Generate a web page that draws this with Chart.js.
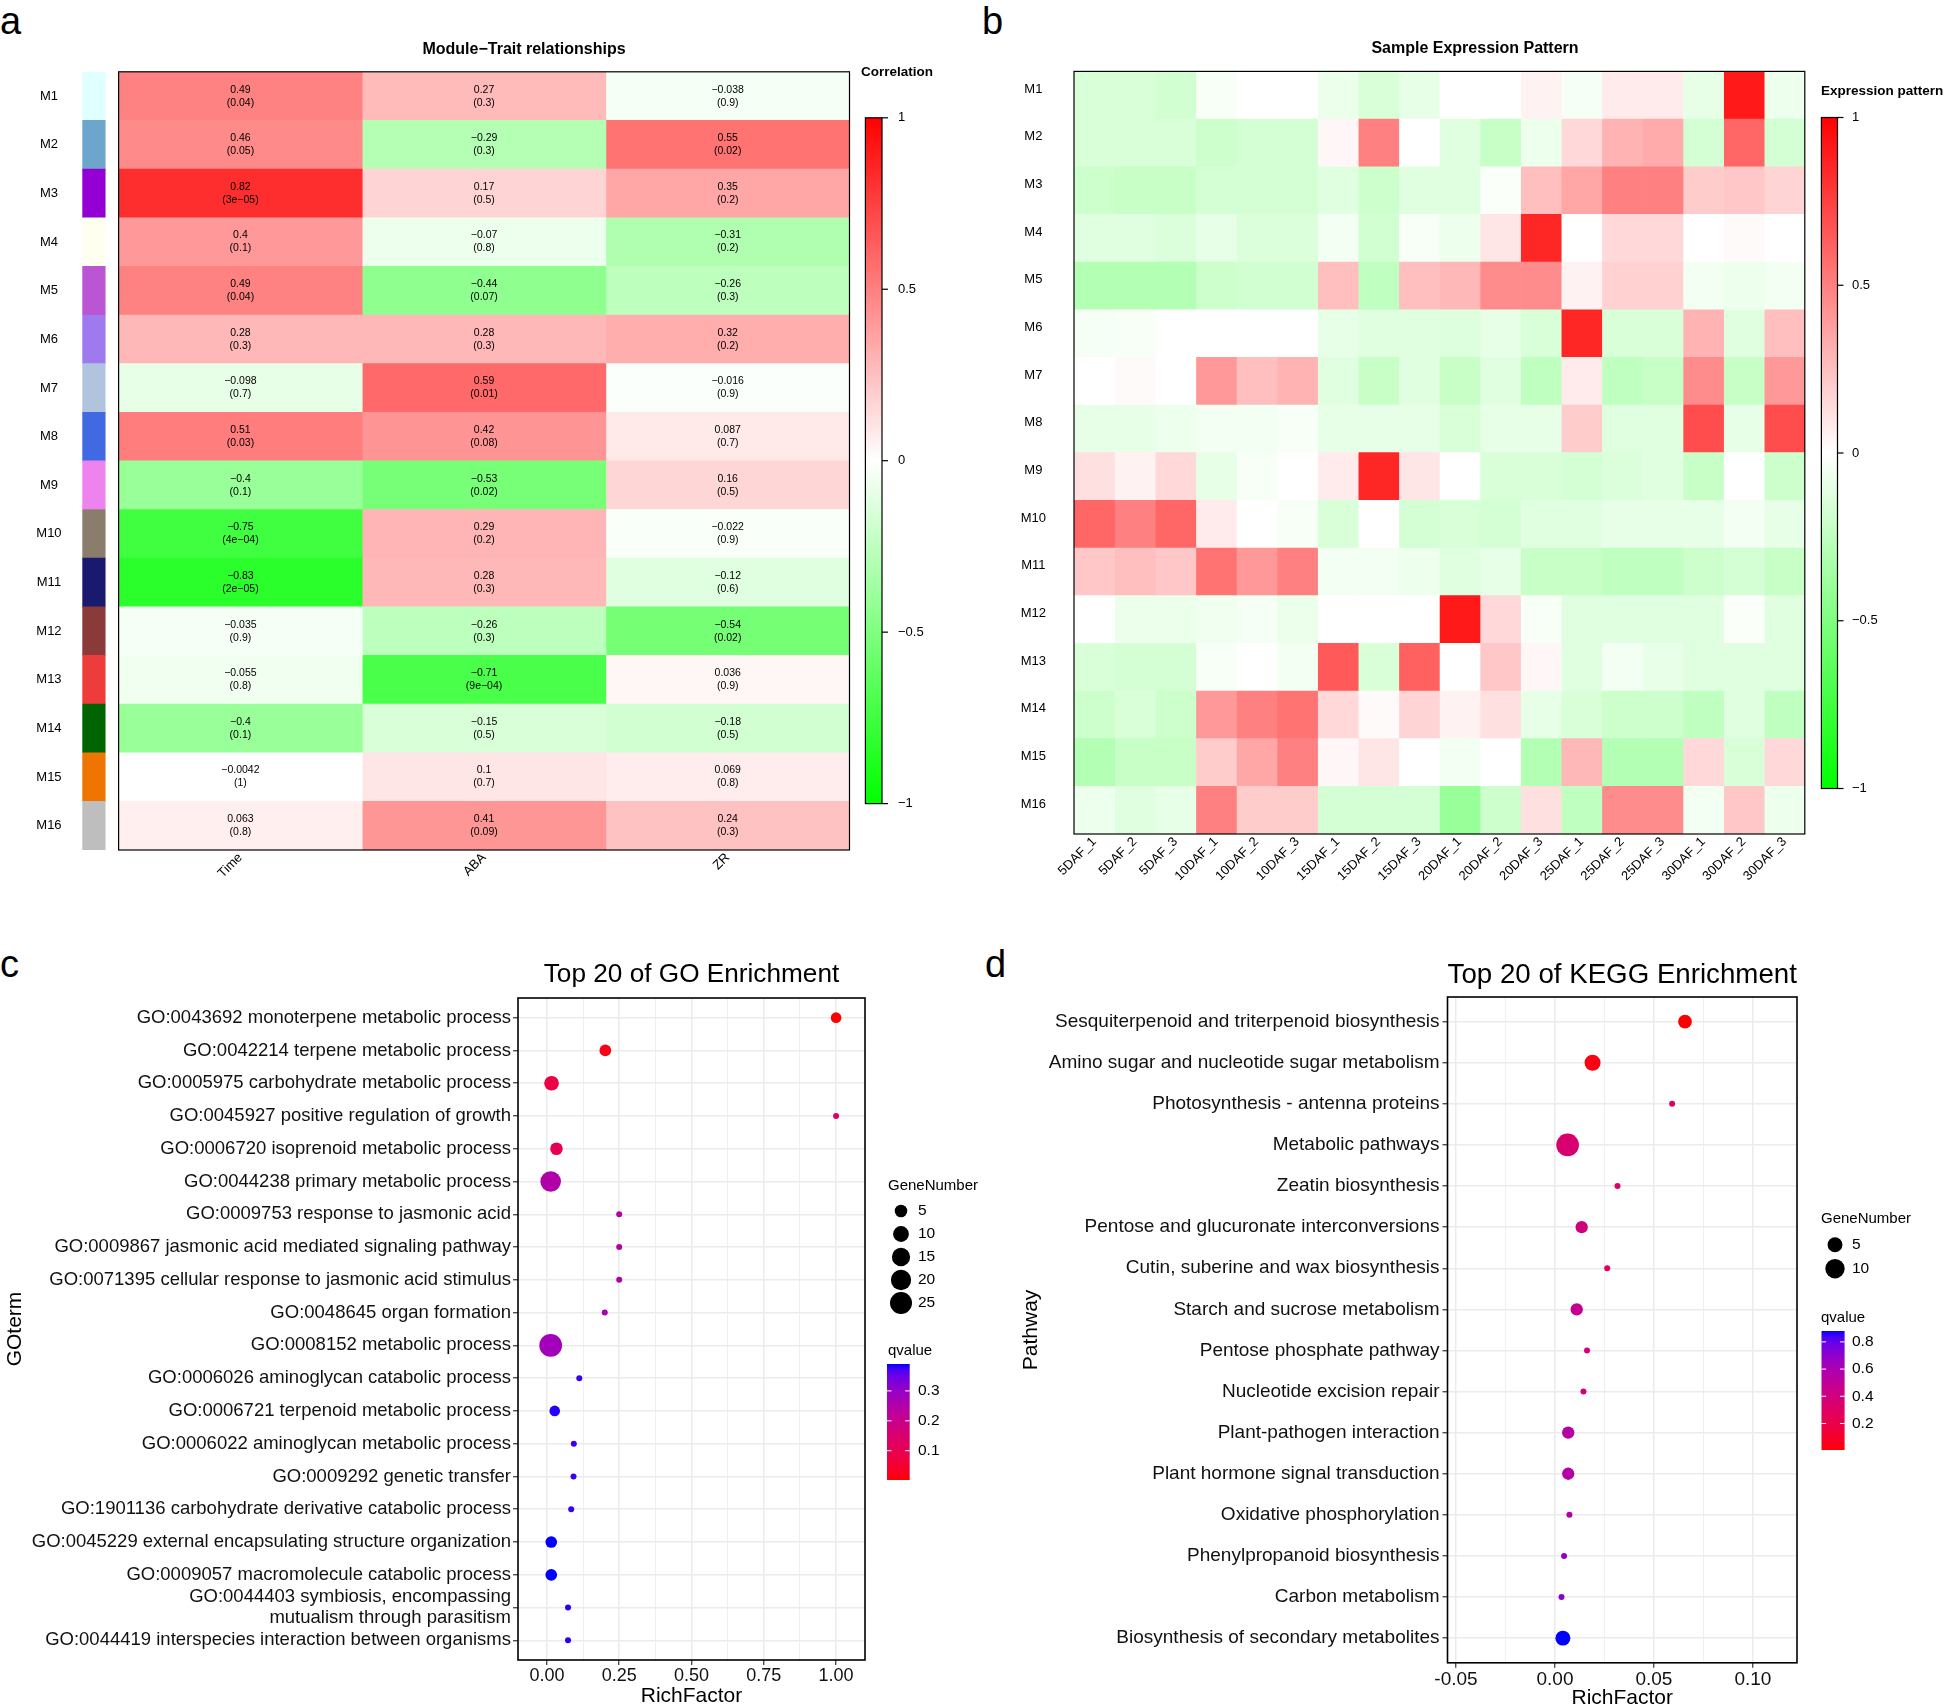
<!DOCTYPE html>
<html>
<head>
<meta charset="utf-8">
<script src="https://cdn.jsdelivr.net/npm/chart.js@4.4.1/dist/chart.umd.min.js"></script>
<style>
  body { margin: 0; background: #fff; }
  #fig { position: relative; width: 1952px; height: 1708px; background: #fff; overflow: hidden;
         font-family: "Liberation Sans", Arial, sans-serif; }
  #fig canvas { position: absolute; }
  .tag { position: absolute; font-size: 38px; line-height: 1; color: #000; }
</style>
</head>
<body>
<div id="fig">
  <div class="tag" style="left:0px;top:2px">a</div>
  <div class="tag" style="left:982px;top:2px">b</div>
  <div class="tag" style="left:0px;top:945px">c</div>
  <div class="tag" style="left:985px;top:945px">d</div>
  <canvas id="cA" width="990" height="900" style="left:0;top:0"></canvas>
  <canvas id="cB" width="962" height="900" style="left:990px;top:0"></canvas>
  <canvas id="cC" width="990" height="768" style="left:0;top:940px"></canvas>
  <canvas id="cD" width="962" height="768" style="left:990px;top:940px"></canvas>
</div>
<script>
// ---- panel a: module-trait correlations ----
const modules = ['M1','M2','M3','M4','M5','M6','M7','M8','M9','M10','M11','M12','M13','M14','M15','M16'];
const moduleColors = ['#E0FFFF','#6CA6CD','#9400D3','#FFFFF0','#BA55D3','#9F79EE','#B0C4DE','#4169E1',
                      '#EE82EE','#8B7D6B','#191970','#8B3A3A','#EE3B3B','#006400','#EE7600','#BEBEBE'];
const traits = ['Time', 'ABA', 'ZR'];
const corTime = [0.49, 0.46, 0.82, 0.4, 0.49, 0.28, -0.098, 0.51, -0.4, -0.75, -0.83, -0.035, -0.055, -0.4, -0.0042, 0.063];
const corABA  = [0.27, -0.29, 0.17, -0.07, -0.44, 0.28, 0.59, 0.42, -0.53, 0.29, 0.28, -0.26, -0.71, -0.15, 0.1, 0.41];
const corZR   = [-0.038, 0.55, 0.35, -0.31, -0.26, 0.32, -0.016, 0.087, 0.16, -0.022, -0.12, -0.54, 0.036, -0.18, 0.069, 0.24];
const pTime = ['0.04','0.05','3e-05','0.1','0.04','0.3','0.7','0.03','0.1','4e-04','2e-05','0.9','0.8','0.1','1','0.8'];
const pABA  = ['0.3','0.3','0.5','0.8','0.07','0.3','0.01','0.08','0.02','0.2','0.3','0.3','9e-04','0.5','0.7','0.09'];
const pZR   = ['0.9','0.02','0.2','0.2','0.3','0.2','0.9','0.7','0.5','0.9','0.6','0.02','0.9','0.5','0.8','0.3'];
const colorbarTicks = [1, 0.5, 0, -0.5, -1];

// ---- panel b: sample expression pattern (rows M1..M16) ----
const samples = ['5DAF_1','5DAF_2','5DAF_3','10DAF_1','10DAF_2','10DAF_3','15DAF_1','15DAF_2','15DAF_3',
                 '20DAF_1','20DAF_2','20DAF_3','25DAF_1','25DAF_2','25DAF_3','30DAF_1','30DAF_2','30DAF_3'];
const exprPattern = [
  [-0.15,-0.15,-0.18,-0.03,0,0,-0.08,-0.15,-0.1,0,0,0.05,-0.04,0.08,0.08,-0.1,0.9,-0.07],
  [-0.15,-0.15,-0.15,-0.2,-0.17,-0.17,0.03,0.5,0,-0.12,-0.22,-0.07,0.15,0.3,0.33,-0.17,0.6,-0.17],
  [-0.2,-0.22,-0.22,-0.17,-0.17,-0.17,-0.12,-0.2,-0.12,-0.12,-0.02,0.25,0.35,0.5,0.5,0.2,0.22,0.17],
  [-0.12,-0.12,-0.14,-0.1,-0.14,-0.14,-0.05,-0.18,-0.03,-0.07,0.1,0.85,0,0.15,0.15,0,0.02,0],
  [-0.3,-0.3,-0.3,-0.2,-0.18,-0.18,0.25,-0.25,0.25,0.28,0.45,0.45,0.05,0.18,0.18,-0.05,-0.07,-0.05],
  [-0.04,-0.03,0,0,0,0,-0.1,-0.12,-0.12,-0.13,-0.1,-0.15,0.85,-0.15,-0.15,0.3,-0.12,0.25],
  [0,0.02,0,0.4,0.25,0.3,-0.12,-0.22,-0.12,-0.22,-0.12,-0.25,0.08,-0.25,-0.22,0.45,-0.22,0.4],
  [-0.1,-0.1,-0.07,-0.05,-0.05,-0.03,-0.1,-0.1,-0.1,-0.15,-0.1,-0.1,0.2,-0.12,-0.12,0.7,-0.1,0.7],
  [0.12,0.05,0.15,-0.1,-0.03,0,0.08,0.85,0.1,0,-0.15,-0.15,-0.17,-0.14,-0.12,-0.22,0,-0.2],
  [0.6,0.5,0.6,0.08,0,-0.03,-0.15,0,-0.17,-0.15,-0.17,-0.12,-0.12,-0.1,-0.1,-0.1,-0.05,-0.1],
  [0.22,0.25,0.22,0.55,0.4,0.5,-0.05,-0.05,-0.07,-0.12,-0.1,-0.22,-0.22,-0.25,-0.25,-0.2,-0.17,-0.22],
  [0,-0.08,-0.08,-0.06,-0.04,-0.08,0,0,0,0.9,0.15,-0.03,-0.12,-0.12,-0.12,-0.12,-0.02,-0.12],
  [-0.15,-0.17,-0.17,-0.03,0,-0.05,0.65,-0.15,0.62,0,0.22,0.03,-0.12,-0.05,-0.09,-0.12,-0.12,-0.12],
  [-0.2,-0.15,-0.2,0.4,0.5,0.55,0.15,0.02,0.17,0.05,0.12,-0.1,-0.15,-0.2,-0.2,-0.25,-0.12,-0.25],
  [-0.3,-0.22,-0.22,0.2,0.35,0.5,0.03,0.1,0,-0.05,0,-0.3,0.28,-0.3,-0.3,0.15,-0.15,0.15],
  [-0.07,-0.12,-0.1,0.5,0.2,0.2,-0.17,-0.17,-0.17,-0.4,-0.2,0.12,-0.25,0.45,0.45,-0.05,0.22,-0.07]
];

// ---- panel c: GO enrichment ----
const goTerms = [
  'GO:0043692 monoterpene metabolic process',
  'GO:0042214 terpene metabolic process',
  'GO:0005975 carbohydrate metabolic process',
  'GO:0045927 positive regulation of growth',
  'GO:0006720 isoprenoid metabolic process',
  'GO:0044238 primary metabolic process',
  'GO:0009753 response to jasmonic acid',
  'GO:0009867 jasmonic acid mediated signaling pathway',
  'GO:0071395 cellular response to jasmonic acid stimulus',
  'GO:0048645 organ formation',
  'GO:0008152 metabolic process',
  'GO:0006026 aminoglycan catabolic process',
  'GO:0006721 terpenoid metabolic process',
  'GO:0006022 aminoglycan metabolic process',
  'GO:0009292 genetic transfer',
  'GO:1901136 carbohydrate derivative catabolic process',
  'GO:0045229 external encapsulating structure organization',
  'GO:0009057 macromolecule catabolic process',
  ['GO:0044403 symbiosis, encompassing', 'mutualism through parasitism'],
  'GO:0044419 interspecies interaction between organisms'
];
const goRichFactor = [1.0, 0.202, 0.016, 1.0, 0.033, 0.013, 0.25, 0.25, 0.25, 0.2, 0.013, 0.112, 0.027, 0.093, 0.092, 0.084, 0.015, 0.015, 0.073, 0.073];
const goGeneNumber = [3, 4, 8, 1, 5, 21, 1, 1, 1, 1, 27, 1, 3, 1, 1, 1, 4, 4, 1, 1];
const goQvalue = [0.002, 0.02, 0.08, 0.14, 0.11, 0.25, 0.24, 0.24, 0.24, 0.26, 0.28, 0.38, 0.385, 0.38, 0.38, 0.38, 0.39, 0.39, 0.385, 0.385];
const goXTicks = [0, 0.25, 0.5, 0.75, 1.0];
const goSizeBreaks = [5, 10, 15, 20, 25];
const goQBreaks = [0.1, 0.2, 0.3];

// ---- panel d: KEGG enrichment ----
const keggPathways = [
  'Sesquiterpenoid and triterpenoid biosynthesis',
  'Amino sugar and nucleotide sugar metabolism',
  'Photosynthesis - antenna proteins',
  'Metabolic pathways',
  'Zeatin biosynthesis',
  'Pentose and glucuronate interconversions',
  'Cutin, suberine and wax biosynthesis',
  'Starch and sucrose metabolism',
  'Pentose phosphate pathway',
  'Nucleotide excision repair',
  'Plant-pathogen interaction',
  'Plant hormone signal transduction',
  'Oxidative phosphorylation',
  'Phenylpropanoid biosynthesis',
  'Carbon metabolism',
  'Biosynthesis of secondary metabolites'
];
const keggRichFactor = [0.0657, 0.019, 0.0592, 0.0064, 0.0316, 0.0135, 0.0264, 0.011, 0.0162, 0.0144, 0.0067, 0.0067, 0.0073, 0.0046, 0.0033, 0.0040];
const keggGeneNumber = [4, 6, 1, 15, 1, 3, 1, 3, 1, 1, 3, 3, 1, 1, 1, 5];
const keggQvalue = [0.005, 0.03, 0.31, 0.35, 0.30, 0.40, 0.28, 0.48, 0.37, 0.39, 0.55, 0.55, 0.57, 0.69, 0.71, 0.88];
const keggXTicks = [-0.05, 0, 0.05, 0.10];
const keggSizeBreaks = [5, 10];
const keggQBreaks = [0.2, 0.4, 0.6, 0.8];

const FONT = '"Liberation Sans", Arial, sans-serif';
Chart.defaults.font.family = FONT;
Chart.defaults.color = '#000';

function heatColor(v) {
  const c = Math.round(255 * (1 - Math.min(1, Math.abs(v))));
  return v >= 0 ? 'rgb(255,' + c + ',' + c + ')' : 'rgb(' + c + ',255,' + c + ')';
}

// red -> blue through Lab, like ggplot's gradient
const RED_LAB = [53.2408, 80.0925, 67.2032], BLUE_LAB = [32.2970, 79.1875, -107.8602];
function qColor(t) {
  t = Math.max(0, Math.min(1, t));
  const L = RED_LAB[0] + t * (BLUE_LAB[0] - RED_LAB[0]);
  const A = RED_LAB[1] + t * (BLUE_LAB[1] - RED_LAB[1]);
  const B = RED_LAB[2] + t * (BLUE_LAB[2] - RED_LAB[2]);
  const fy = (L + 16) / 116, fx = fy + A / 500, fz = fy - B / 200;
  const f = u => u > 0.206893 ? u * u * u : (u - 16 / 116) / 7.787;
  const X = 0.95047 * f(fx), Y = f(fy), Z = 1.08883 * f(fz);
  const r = 3.2406 * X - 1.5372 * Y - 0.4986 * Z;
  const g = -0.9689 * X + 1.8758 * Y + 0.0415 * Z;
  const b = 0.0557 * X - 0.2040 * Y + 1.0570 * Z;
  const gam = c => { c = Math.max(0, Math.min(1, c)); return Math.round(255 * (c <= 0.0031308 ? 12.92 * c : 1.055 * Math.pow(c, 1 / 2.4) - 0.055)); };
  return 'rgb(' + gam(r) + ',' + gam(g) + ',' + gam(b) + ')';
}

function text(ctx, s, x, y, font, align, color) {
  ctx.font = font;
  ctx.textAlign = align || 'left';
  ctx.textBaseline = 'middle';
  ctx.fillStyle = color || '#000';
  ctx.fillText(s, x, y);
}
const minus = s => String(s).replace('-', '\u2212');

function drawHeatBar(ctx, x0, x1, top, bot, labelX) {
  const g = ctx.createLinearGradient(0, bot, 0, top);
  for (let k = 0; k <= 40; k++) g.addColorStop(k / 40, heatColor(-1 + k / 20));
  ctx.fillStyle = g;
  ctx.fillRect(x0, top, x1 - x0, bot - top);
  ctx.strokeStyle = '#000';
  ctx.lineWidth = 1.2;
  ctx.strokeRect(x0, top, x1 - x0, bot - top);
  colorbarTicks.forEach(v => {
    const y = bot - (v + 1) / 2 * (bot - top);
    ctx.beginPath(); ctx.moveTo(x1, y); ctx.lineTo(x1 + 6, y); ctx.stroke();
    text(ctx, minus(v), labelX, y, '13px ' + FONT, 'left');
  });
}

// ---------- chart a ----------
const corr = [corTime, corABA, corZR];
const pvals = [pTime, pABA, pZR];
const cellOpts = { grouped: false, barPercentage: 1, categoryPercentage: 1, borderWidth: 0 };

const mtDecor = {
  id: 'mtDecor',
  afterDraw(chart) {
    const { ctx, chartArea: a } = chart;
    const x = chart.scales.x;
    ctx.save();
    traits.forEach((t, j) => {
      chart.getDatasetMeta(j + 1).data.forEach((bar, i) => {
        const cx = (bar.x + bar.base) / 2;
        text(ctx, minus(corr[j][i]), cx, bar.y - 6.5, '10.5px ' + FONT, 'center');
        text(ctx, '(' + minus(pvals[j][i]) + ')', cx, bar.y + 6.5, '10.5px ' + FONT, 'center');
      });
    });
    const x0 = x.getPixelForValue(0), x3 = x.getPixelForValue(traits.length);
    ctx.strokeStyle = '#000';
    ctx.lineWidth = 1.2;
    ctx.strokeRect(x0, a.top, x3 - x0, a.bottom - a.top);
    text(ctx, 'Module\u2212Trait relationships', 524, 49.5, 'bold 16px ' + FONT, 'center');
    text(ctx, 'Correlation', 861, 72, 'bold 13.5px ' + FONT, 'left');
    drawHeatBar(ctx, 865.4, 882, 117.8, 803.6, 898);
    ctx.restore();
  }
};

new Chart(document.getElementById('cA'), {
  type: 'bar',
  data: {
    labels: modules,
    datasets: [
      Object.assign({ label: 'module', data: modules.map(() => [-0.149, -0.055]), backgroundColor: moduleColors }, cellOpts)
    ].concat(traits.map((t, j) => Object.assign({
      label: t, data: modules.map(() => [j, j + 1]), backgroundColor: corr[j].map(heatColor)
    }, cellOpts)))
  },
  options: {
    indexAxis: 'y', responsive: false, animation: false,
    layout: { padding: { left: 0, right: 140.5, top: 71.8, bottom: 0 } },
    plugins: { legend: { display: false }, tooltip: { enabled: false } },
    scales: {
      x: {
        type: 'linear', min: -0.149, max: 3,
        grid: { display: false }, border: { display: false },
        afterBuildTicks: s => { s.ticks = traits.map((t, j) => ({ value: j + 0.5 })); },
        ticks: { autoSkip: false, minRotation: 45, maxRotation: 45, padding: -8, font: { size: 13 }, color: '#000',
                 callback: (v, i) => traits[i] },
        afterFit: s => { s.height = 50; }
      },
      y: {
        grid: { display: false }, border: { display: false },
        ticks: { crossAlign: 'center', padding: 12.7, font: { size: 13 }, color: '#000' },
        afterFit: s => { s.width = 82.3; }
      }
    }
  },
  plugins: [mtDecor]
});

// ---------- chart b ----------
const sepDecor = {
  id: 'sepDecor',
  afterDraw(chart) {
    const { ctx, chartArea: a } = chart;
    ctx.save();
    ctx.strokeStyle = '#000';
    ctx.lineWidth = 1.2;
    ctx.strokeRect(a.left, a.top, a.right - a.left, a.bottom - a.top);
    text(ctx, 'Sample Expression Pattern', 485, 49, 'bold 16px ' + FONT, 'center');
    text(ctx, 'Expression pattern', 831, 91.5, 'bold 13.5px ' + FONT, 'left');
    drawHeatBar(ctx, 831.4, 847.5, 117.5, 788.5, 862);
    ctx.restore();
  }
};

new Chart(document.getElementById('cB'), {
  type: 'bar',
  data: {
    labels: modules,
    datasets: samples.map((s, j) => Object.assign({
      label: s, data: modules.map(() => [j, j + 1]), backgroundColor: exprPattern.map(row => heatColor(row[j]))
    }, cellOpts))
  },
  options: {
    indexAxis: 'y', responsive: false, animation: false,
    layout: { padding: { left: 0, right: 147.2, top: 71.4, bottom: 6 } },
    plugins: { legend: { display: false }, tooltip: { enabled: false } },
    scales: {
      x: {
        type: 'linear', min: 0, max: samples.length,
        grid: { display: false }, border: { display: false },
        afterBuildTicks: s => { s.ticks = samples.map((t, j) => ({ value: j + 0.5 })); },
        ticks: { autoSkip: false, minRotation: 45, maxRotation: 45, padding: -8, font: { size: 13 }, color: '#000',
                 callback: (v, i) => samples[i] },
        afterFit: s => { s.height = 60; }
      },
      y: {
        grid: { display: false }, border: { display: false },
        ticks: { crossAlign: 'center', padding: 20, labelOffset: -6, font: { size: 13 }, color: '#000' },
        afterFit: s => { s.width = 84; }
      }
    }
  },
  plugins: [sepDecor]
});

// ---------- charts c and d ----------
function enrichChart(id, o) {
  const nLo = Math.min(...o.genes), nHi = Math.max(...o.genes);
  const qLo = Math.min(...o.q), qHi = Math.max(...o.q);
  const rad = n => (2.66 + 3.34 * (1 + 5 * Math.sqrt(Math.max(0, n - nLo) / (nHi - nLo)))) / 2;
  const col = v => qColor((v - qLo) / (qHi - qLo));
  const step = o.xTicks[1] - o.xTicks[0];
  const minors = [];
  for (let v = o.xTicks[0] - step / 2; v < o.xMax; v += step) if (v > o.xMin) minors.push(v);
  const xt = o.xTicks.map(v => ({ value: v })).concat(minors.map(v => ({ value: v, mnr: true })))
    .sort((p, q) => p.value - q.value);
  const L = o.legend;

  const decor = {
    id: 'enrichDecor',
    afterDraw(chart) {
      const { ctx, chartArea: a } = chart;
      const cx = (a.left + a.right) / 2;
      ctx.save();
      ctx.strokeStyle = '#000';
      ctx.lineWidth = 1.6;
      ctx.strokeRect(a.left, a.top, a.right - a.left, a.bottom - a.top);
      text(ctx, o.title, cx, 35, o.titleFont + 'px ' + FONT, 'center');
      text(ctx, 'RichFactor', cx, o.xTitleY, '21px ' + FONT, 'center');
      ctx.save();
      ctx.translate(o.yTitleX, (a.top + a.bottom) / 2);
      ctx.rotate(-Math.PI / 2);
      text(ctx, o.yTitle, 0, 0, '21px ' + FONT, 'center');
      ctx.restore();
      // size legend
      text(ctx, 'GeneNumber', L.x, L.sizeTitleY, '15px ' + FONT, 'left');
      o.sizeBreaks.forEach((n, k) => {
        const y = L.sizeY[k];
        ctx.beginPath();
        ctx.arc(L.dotX, y, rad(n), 0, Math.PI * 2);
        ctx.fillStyle = '#000';
        ctx.fill();
        text(ctx, String(n), L.labelX, y, '15.5px ' + FONT, 'left');
      });
      // qvalue colourbar
      text(ctx, 'qvalue', L.x, L.qTitleY, '15px ' + FONT, 'left');
      const g = ctx.createLinearGradient(0, L.barBot, 0, L.barTop);
      for (let k = 0; k <= 20; k++) g.addColorStop(k / 20, qColor(k / 20));
      ctx.fillStyle = g;
      ctx.fillRect(L.barX0, L.barTop, L.barX1 - L.barX0, L.barBot - L.barTop);
      ctx.strokeStyle = '#fff';
      ctx.lineWidth = 1;
      const w = (L.barX1 - L.barX0) / 5;
      o.qBreaks.forEach(v => {
        const y = L.barBot - (v - qLo) / (qHi - qLo) * (L.barBot - L.barTop);
        ctx.beginPath();
        ctx.moveTo(L.barX0, y); ctx.lineTo(L.barX0 + w, y);
        ctx.moveTo(L.barX1 - w, y); ctx.lineTo(L.barX1, y);
        ctx.stroke();
        text(ctx, v.toFixed(1), L.labelX, y, '15.5px ' + FONT, 'left');
      });
      ctx.restore();
    }
  };

  return new Chart(document.getElementById(id), {
    type: 'scatter',
    data: {
      datasets: [{
        data: o.rich.map((x, i) => ({ x: x, y: i })),
        pointRadius: o.genes.map(rad),
        pointHoverRadius: o.genes.map(rad),
        backgroundColor: o.q.map(col),
        borderWidth: 0
      }]
    },
    options: {
      responsive: false, animation: false,
      layout: { padding: o.pad },
      plugins: { legend: { display: false }, tooltip: { enabled: false } },
      scales: {
        x: {
          type: 'linear', min: o.xMin, max: o.xMax,
          afterBuildTicks: s => { s.ticks = xt.map(t => Object.assign({}, t)); },
          ticks: { autoSkip: false, maxRotation: 0, padding: o.xPad, font: { size: o.xFont }, color: '#111',
                   callback: function (v, i, t) { return t[i].mnr ? '' : v.toFixed(2); } },
          grid: { color: '#EBEBEB', lineWidth: c => (c.tick && c.tick.mnr ? 0.8 : 1.5),
                  tickColor: c => (c.tick && c.tick.mnr ? 'rgba(0,0,0,0)' : '#333'), tickLength: 5, tickWidth: 1.2 },
          border: { display: false },
          afterFit: s => { s.height = 40; }
        },
        y: {
          type: 'linear', reverse: true, min: -0.6, max: o.terms.length - 0.4,
          afterBuildTicks: s => { s.ticks = o.terms.map((t, i) => ({ value: i })); },
          ticks: { autoSkip: false, padding: o.yPad, font: { size: o.yFont, lineHeight: 1.15 }, color: '#111',
                   callback: (v, i) => o.terms[i] },
          grid: { color: '#EBEBEB', lineWidth: 1.5, tickColor: '#333', tickLength: 5, tickWidth: 1.2 },
          border: { display: false },
          afterFit: s => { s.width = o.yWidth; }
        }
      }
    },
    plugins: [decor]
  });
}

enrichChart('cC', {
  terms: goTerms, rich: goRichFactor, genes: goGeneNumber, q: goQvalue,
  xTicks: goXTicks, xMin: -0.1, xMax: 1.1, sizeBreaks: goSizeBreaks, qBreaks: goQBreaks,
  title: 'Top 20 of GO Enrichment', titleFont: 26.2, yTitle: 'GOterm', yTitleX: 15.5, xTitleY: 756,
  pad: { left: 0, right: 125, top: 58, bottom: 8 }, yWidth: 518, yPad: 2, yFont: 18.5, xPad: 0, xFont: 18,
  legend: { x: 888, sizeTitleY: 246, dotX: 901, sizeY: [271, 294, 317, 340, 363], labelX: 918,
            qTitleY: 411, barX0: 887, barX1: 909.7, barTop: 424, barBot: 540 }
});

enrichChart('cD', {
  terms: keggPathways, rich: keggRichFactor, genes: keggGeneNumber, q: keggQvalue,
  xTicks: keggXTicks, xMin: -0.0543, xMax: 0.1223, sizeBreaks: keggSizeBreaks, qBreaks: keggQBreaks,
  title: 'Top 20 of KEGG Enrichment', titleFont: 27.7, yTitle: 'Pathway', yTitleX: 41.6, xTitleY: 758.5,
  pad: { left: 0, right: 155, top: 57, bottom: 5.2 }, yWidth: 457.5, yPad: 3, yFont: 19, xPad: 1, xFont: 19,
  legend: { x: 831, sizeTitleY: 279, dotX: 845, sizeY: [304.8, 328.7], labelX: 862,
            qTitleY: 378, barX0: 831.5, barX1: 854.6, barTop: 391, barBot: 510 }
});
</script>
</body>
</html>
